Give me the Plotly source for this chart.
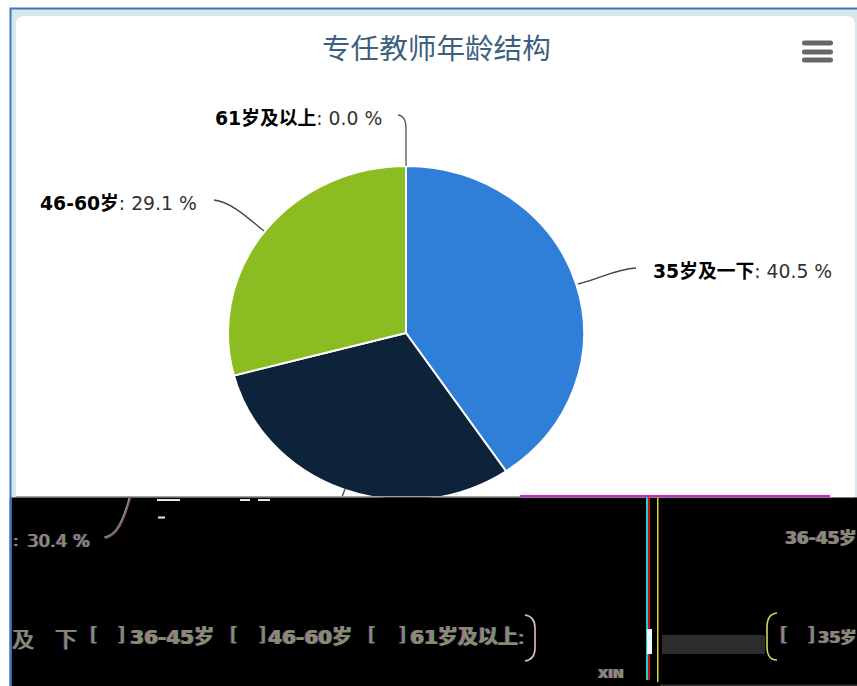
import plotly.graph_objects as go

W, H = 857, 686
categories = ["35岁及一下", "36-45岁", "46-60岁", "61岁及以上"]
values = [40.5, 30.4, 29.1, 0.0]
colors = ["#2f7ed8", "#0d233a", "#8bbc21", "#910000"]
title_text = "专任教师年龄结构"

FONT = "DejaVu Sans, Noto Sans CJK SC, sans-serif"
CJK = "Noto Sans CJK SC, DejaVu Sans, sans-serif"

def X(p): return p / W
def Y(p): return 1 - p / H

def path(d):
    out = []
    for tok in d.split():
        if "," in tok:
            a, b = tok.split(",")
            out.append(f"{X(float(a)):.5f},{Y(float(b)):.5f}")
        else:
            out.append(tok)
    return " ".join(out)

shapes = []
def rect(x0, y0, x1, y1, fill, layer="above"):
    shapes.append(dict(type="rect", xref="paper", yref="paper", x0=X(x0), x1=X(x1), y0=Y(y0), y1=Y(y1),
                       fillcolor=fill, line=dict(width=0), layer=layer))
def line(d, color, width=1.3, layer="above"):
    shapes.append(dict(type="path", xref="paper", yref="paper", path=path(d),
                       line=dict(color=color, width=width), layer=layer))
def pill(x0, x1, yc, h, fill):
    r = h / 2
    d = (f"M {x0+r},{yc-r} L {x1-r},{yc-r} Q {x1},{yc-r} {x1},{yc} Q {x1},{yc+r} {x1-r},{yc+r} "
         f"L {x0+r},{yc+r} Q {x0},{yc+r} {x0},{yc} Q {x0},{yc-r} {x0+r},{yc-r} Z")
    shapes.append(dict(type="path", xref="paper", yref="paper", path=path(d),
                       fillcolor=fill, line=dict(width=0), layer="above"))

# page frame
rect(9.5, 7.5, 857, 686, "#4472c4", "below")
rect(11.5, 9.5, 857, 686, "#d5e8ec", "below")
shapes.append(dict(type="path", xref="paper", yref="paper", layer="below",
                   path=path("M 16,24 Q 16,16 24,16 L 846,16 Q 855,16 855,25 L 855,500 L 16,500 Z"),
                   fillcolor="#ffffff", line=dict(width=0)))

# menu icon
for yy in (43, 52, 60):
    pill(802, 833, yy, 5, "#666666")

# connector lines
line("M 578,284 C 600,279 615,269 636,268", "#444444")
line("M 264,231 C 250,220 232,202 214,200", "#444444")
line("M 406,166 L 406,130 C 406,122 405,116 398,115", "#555555")
line("M 345,489 L 342,497", "#444444")

# glitched lower part of the screenshot
rect(16, 496, 520, 497.5, "#a0a0a0")
rect(11.5, 497.5, 857, 686, "#000000")
rect(9.5, 497.5, 11.5, 686, "#4472c4")
rect(520, 495, 830, 497, "#d020d0")
rect(646, 497.5, 648, 680, "#20d0d0")
rect(648, 497.5, 650, 680, "#d01010")
rect(657, 497.5, 658.5, 682, "#d8d830")
rect(647, 629, 652, 654, "#f4ffff")
rect(662, 635, 765, 654, "#2c2c2c")
rect(660, 684.5, 857, 686, "#333333")
line("M 105,538 C 116,536 123,524 130,498", "#a05070", 2)
line("M 104,537 C 115,535 122,523 129,498", "#50c0b0", 1)
for a, b in ((157, 180), (240, 250), (258, 270)):
    rect(a, 499, b, 501, "#e8e8e8")
rect(158, 516.5, 165, 518.5, "#e8e8e8")
line("M 525,615 C 532,616 535,620 535,628 L 535,648 C 535,656 532,660 525,661", "#e0c0c0", 1.6)
line("M 777,613 C 770,614 767,618 767,628 L 767,646 C 767,656 770,660 777,660", "#d8d860", 1.6)

fig = go.Figure(go.Pie(
    labels=categories, values=values,
    marker=dict(colors=colors, line=dict(color="#ffffff", width=2)),
    sort=False, direction="clockwise", rotation=0,
    textinfo="none", hoverinfo="label+percent", showlegend=False,
    domain=dict(x=[X(406 - 178), X(406 + 178)], y=[Y(333 + 178), Y(333 - 178)]),
))

def note(x, y, text, size=18.8, color="#333333", family=FONT, anchor="left", shadow=None):
    font = dict(size=size, color=color, family=family)
    if shadow:
        font["shadow"] = shadow
    return dict(xref="paper", yref="paper", x=X(x), y=Y(y), text=text, showarrow=False,
                xanchor=anchor, yanchor="middle", font=font)

def glitch(x, y, text, size=20, family=FONT):
    # colour fringes, as in the corrupted band of the screenshot
    return note(x, y, text, size, "#8c8a6c", family,
                shadow="-1px 0 #a03080, 1px 0 #209080")

def lab(i):
    return f"<b style='color:#000'>{categories[i]}</b>: {values[i]:.1f} %"

annotations = [
    note(437, 46, title_text, 28.6, "#3e5f80", CJK, "center"),
    note(651, 271, lab(0)),
    note(38, 203, lab(2)),
    note(213, 118, lab(3)),
    glitch(11, 540, ":", 16),
    glitch(25, 540, f"{values[1]:.1f} %", 18),
    glitch(783, 538, f"<b>{categories[1]}</b>", 17),
    glitch(10, 637, "及", 22, CJK),
    glitch(53, 637, "下", 22, CJK),
]
for bx in (88, 228, 366, 778):
    annotations.append(glitch(bx, 634, "[", 20))
for bx in (115, 256, 396, 805):
    annotations.append(glitch(bx, 634, "]", 20))
annotations += [
    glitch(128, 637, f"<b>{categories[1]}</b>", 20),
    glitch(266, 637, f"<b>{categories[2]}</b>", 20),
    glitch(408, 637, f"<b>{categories[3]}</b>:", 20),
    glitch(816, 637, f"<b>{categories[0][:3]}</b>", 16),
    glitch(596, 673, "<b>XIN</b>", 13),
]

fig.update_layout(
    width=W, height=H, margin=dict(l=0, r=0, t=0, b=0, autoexpand=False),
    paper_bgcolor="#ffffff", plot_bgcolor="#ffffff",
    shapes=shapes, annotations=annotations, showlegend=False,
)
# the reference pie is slightly squashed vertically (screenshot was stretched)
squash = ("document.body.style.margin='0';document.body.style.overflow='hidden';"
          "document.querySelectorAll('.pielayer').forEach(function(g){"
          "g.setAttribute('transform','translate(0,333) scale(1,0.9385) translate(0,-333)');});")
fig.write_html("out.html", config=dict(displayModeBar=False), post_script=squash)
